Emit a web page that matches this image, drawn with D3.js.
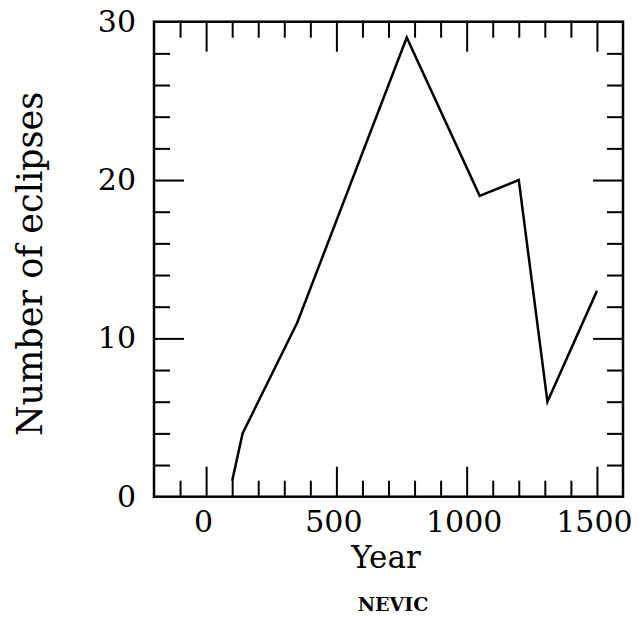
<!DOCTYPE html>
<html>
<head>
<meta charset="utf-8">
<script src="https://cdn.jsdelivr.net/npm/d3@7"></script>
<style>
  html, body { margin: 0; padding: 0; background: #fff; }
  svg { display: block; }
  text { font-family: "DejaVu Serif", "Liberation Serif", serif; fill: #000; }
</style>
</head>
<body>
<div id="chart"></div>
<script>
// ---- data ----
const years  = [100, 140, 350, 770, 1050, 1200, 1310, 1500];
const counts = [1, 4, 11, 29, 19, 20, 6, 13];
const xMajorTicks = [0, 500, 1000, 1500];
const xMinorTicks = [-100, 100, 200, 300, 400, 600, 700, 800, 900, 1100, 1200, 1300, 1400];
const yMajorTicks = [0, 10, 20, 30];
const yMinorTicks = [2, 4, 6, 8, 12, 14, 16, 18, 22, 24, 26, 28];
const xLabel = "Year";
const yLabel = "Number of eclipses";
const caption = "NEVIC";

// ---- layout ----
const W = 639, H = 622;
const pLeft = 154, pRight = 623, pTop = 21.7, pBottom = 496.7;

const svg = d3.select("#chart").append("svg")
  .attr("width", W).attr("height", H);
svg.append("rect").attr("width", W).attr("height", H).attr("fill", "#fff");

const x = d3.scaleLinear().domain([-200, 1600]).range([pLeft, pRight]);
const y = d3.scaleLinear().domain([0, 30]).range([pBottom, pTop]);

function styleAxis(g) {
  g.select(".domain").remove();
  g.selectAll(".tick line").attr("stroke", "#000").attr("stroke-width", 2);
  g.selectAll(".tick text").attr("font-family", "DejaVu Serif").attr("fill", "#000");
}

// bottom
svg.append("g").attr("transform", `translate(0,${pBottom})`)
  .call(d3.axisBottom(x).tickValues(xMinorTicks).tickSize(-16).tickFormat(""))
  .call(styleAxis);
svg.append("g").attr("transform", `translate(0,${pBottom})`)
  .call(d3.axisBottom(x).tickValues(xMajorTicks).tickSize(-30).tickPadding(14).tickFormat(d3.format("d")))
  .call(styleAxis)
  .call(g => g.selectAll(".tick text").attr("font-size", 30).attr("dx", "-3"));
// top
svg.append("g").attr("transform", `translate(0,${pTop})`)
  .call(d3.axisTop(x).tickValues(xMinorTicks).tickSize(-16).tickFormat(""))
  .call(styleAxis);
svg.append("g").attr("transform", `translate(0,${pTop})`)
  .call(d3.axisTop(x).tickValues(xMajorTicks).tickSize(-30).tickFormat(""))
  .call(styleAxis);
// left
svg.append("g").attr("transform", `translate(${pLeft},0)`)
  .call(d3.axisLeft(y).tickValues(yMinorTicks).tickSize(-16).tickFormat(""))
  .call(styleAxis);
svg.append("g").attr("transform", `translate(${pLeft},0)`)
  .call(d3.axisLeft(y).tickValues(yMajorTicks.filter(d => d > 0 && d < 30)).tickSize(-30).tickFormat(""))
  .call(styleAxis);
svg.append("g").attr("transform", `translate(${pLeft},0)`)
  .call(d3.axisLeft(y).tickValues(yMajorTicks).tickSize(0).tickPadding(18).tickFormat(d3.format("d")))
  .call(styleAxis)
  .call(g => g.selectAll(".tick text").attr("font-size", 30));
// right
svg.append("g").attr("transform", `translate(${pRight},0)`)
  .call(d3.axisRight(y).tickValues(yMinorTicks).tickSize(-16).tickFormat(""))
  .call(styleAxis);
svg.append("g").attr("transform", `translate(${pRight},0)`)
  .call(d3.axisRight(y).tickValues(yMajorTicks.filter(d => d > 0 && d < 30)).tickSize(-30).tickFormat(""))
  .call(styleAxis);

// frame
svg.append("rect")
  .attr("x", pLeft).attr("y", pTop)
  .attr("width", pRight - pLeft).attr("height", pBottom - pTop)
  .attr("fill", "none").attr("stroke", "#000").attr("stroke-width", 2.5);

// line
const line = d3.line().x((d, i) => x(years[i])).y(d => y(d));
svg.append("path")
  .datum(counts)
  .attr("d", line)
  .attr("fill", "none")
  .attr("stroke", "#000")
  .attr("stroke-width", 2.5)
  .attr("stroke-linejoin", "miter");

// labels
svg.append("text")
  .attr("x", 386).attr("y", 568)
  .attr("text-anchor", "middle")
  .attr("font-size", 31)
  .text(xLabel);
svg.append("text")
  .attr("x", 393).attr("y", 611)
  .attr("text-anchor", "middle")
  .attr("font-size", 19)
  .attr("font-weight", "bold")
  .text(caption);
svg.append("text")
  .attr("transform", "translate(42,264) rotate(-90)")
  .attr("text-anchor", "middle")
  .attr("font-size", 35)
  .text(yLabel);
</script>
</body>
</html>
